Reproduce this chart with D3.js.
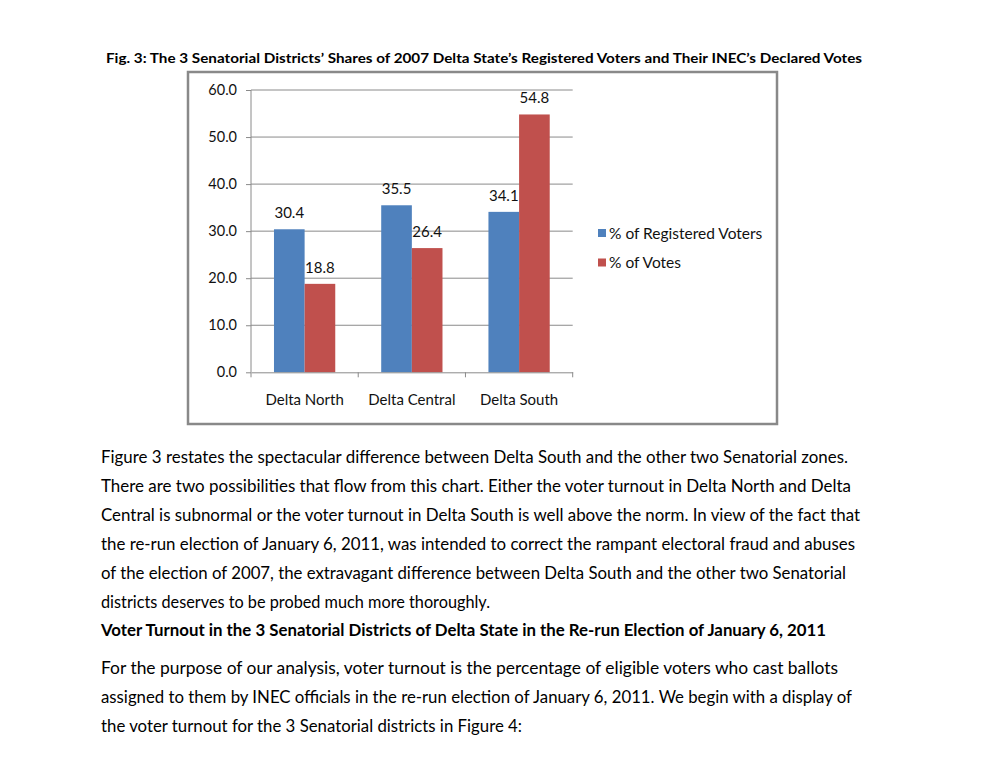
<!DOCTYPE html>
<html><head><meta charset="utf-8">
<script src="https://cdn.jsdelivr.net/npm/d3@7"></script>
<style>html,body{margin:0;padding:0;background:#fff;} svg{display:block;}</style>
</head><body>
<script>
const categories = ["Delta North", "Delta Central", "Delta South"];
const seriesNames = ["% of Registered Voters", "% of Votes"];
const registeredVoters = [30.4, 35.5, 34.1];
const votes = [18.8, 26.4, 54.8];
const yTicks = [0, 10, 20, 30, 40, 50, 60];
const colors = ["#4F81BD", "#C0504D"];
const title = "Fig. 3: The 3 Senatorial Districts\u2019 Shares of 2007 Delta State\u2019s Registered Voters and Their INEC\u2019s Declared Votes";
const para1 = [
 "Figure 3 restates the spectacular difference between Delta South and the other two Senatorial zones.",
 "There are two possibilities that flow from this chart. Either the voter turnout in Delta North and Delta",
 "Central is subnormal or the voter turnout in Delta South is well above the norm.  In view of the fact that",
 "the re-run election of January 6, 2011, was intended to correct the rampant electoral fraud and abuses",
 "of the election of 2007, the extravagant difference between Delta South and the other two Senatorial",
 "districts deserves to be probed much more thoroughly."
];
const para1W = [747, 750, 759, 754, 745, 389];
const heading = "Voter Turnout in the 3 Senatorial Districts of Delta State in the Re-run Election of January 6, 2011";
const para2 = [
 "For the purpose of our analysis, voter turnout is the percentage of eligible voters who cast ballots",
 "assigned to them by INEC officials in the re-run election of January 6, 2011. We begin with a display of",
 "the voter turnout for the 3 Senatorial districts in Figure 4:"
];
const para2W = [737, 751, 421];

const font = "Lato, 'Open Sans', sans-serif";
const svg = d3.select("body").append("svg").attr("width", 985).attr("height", 762)
  .style("font-family", font);

// title
svg.append("text").attr("x", 106).attr("y", 63).attr("font-size", 14).attr("font-weight", "bold")
  .attr("textLength", 756).attr("lengthAdjust", "spacingAndGlyphs").attr("fill", "#000").text(title);

// chart frame
svg.append("rect").attr("x", 188).attr("y", 72).attr("width", 589).attr("height", 352)
  .attr("fill", "#fff").attr("stroke", "#898989").attr("stroke-width", 2.5);

const x0 = d3.scaleBand().domain(categories).range([251, 572.7]).paddingInner(0).paddingOuter(0);
const bw = x0.bandwidth() / 3.5;
const x1 = d3.scaleBand().domain(seriesNames).range([bw * 0.75, bw * 0.75 + 2 * bw]).padding(0);
const y = d3.scaleLinear().domain([0, 60]).range([372.3, 90]);

// gridlines
svg.append("g").selectAll("line").data(yTicks.filter(d => d > 0)).join("line")
  .attr("x1", 251).attr("x2", 572.7).attr("y1", d => y(d)).attr("y2", d => y(d))
  .attr("stroke", "#8a8a8a").attr("stroke-width", 1);

// y axis
const yAxis = svg.append("g").attr("transform", "translate(251,0)")
  .call(d3.axisLeft(y).tickValues(yTicks).tickFormat(d3.format(".1f")).tickSize(5).tickPadding(9));
yAxis.select(".domain").attr("stroke", "#8a8a8a").attr("d", `M0,${y(60)}V${y(0)}`);
yAxis.selectAll(".tick line").attr("stroke", "#8a8a8a");
yAxis.selectAll(".tick text").attr("font-size", 14.5).attr("font-family", font).attr("fill", "#111");

// bars
const data = categories.map((c, i) => ({c, vals: [registeredVoters[i], votes[i]]}));
const groups = svg.append("g").selectAll("g").data(data).join("g")
  .attr("transform", d => `translate(${x0(d.c)},0)`);
groups.selectAll("rect").data(d => d.vals.map((v, j) => ({v, s: seriesNames[j], j}))).join("rect")
  .attr("x", d => x1(d.s)).attr("width", x1.bandwidth())
  .attr("y", d => y(d.v)).attr("height", d => y(0) - y(d.v))
  .attr("fill", d => colors[d.j]);
groups.selectAll("text").data(d => d.vals.map((v, j) => ({v, s: seriesNames[j], j}))).join("text")
  .attr("x", d => x1(d.s) + x1.bandwidth() / 2).attr("y", d => y(d.v) - 11)
  .attr("text-anchor", "middle").attr("font-size", 15).attr("fill", "#111")
  .text(d => d3.format(".1f")(d.v));

// x axis
const xAxis = svg.append("g").attr("transform", `translate(0,${y(0)})`)
  .call(d3.axisBottom(x0).tickSize(0).tickPadding(22));
xAxis.select(".domain").attr("stroke", "#8a8a8a");
xAxis.selectAll(".tick text").attr("font-size", 15).attr("font-family", font).attr("fill", "#111");
const bounds = [...categories.map(c => x0(c)), x0.range()[1]];
svg.append("g").selectAll("line").data(bounds).join("line")
  .attr("x1", d => d).attr("x2", d => d).attr("y1", y(0)).attr("y2", y(0) + 5)
  .attr("stroke", "#8a8a8a");

// legend
const lg = svg.append("g").selectAll("g").data(seriesNames).join("g")
  .attr("transform", (d, i) => `translate(598,${233 + i * 29.5})`);
lg.append("rect").attr("x", 0).attr("y", -4).attr("width", 8).attr("height", 8)
  .attr("fill", (d, i) => colors[i]);
lg.append("text").attr("x", 11).attr("y", 5.5).attr("font-size", 15.5).attr("fill", "#111").text(d => d);

// paragraphs
svg.append("g").selectAll("text").data(para1).join("text")
  .attr("x", 101).attr("y", (d, i) => 463 + i * 28.9)
  .attr("font-size", 17.5).attr("fill", "#000")
  .attr("textLength", (d, i) => para1W[i]).attr("lengthAdjust", "spacingAndGlyphs").text(d => d);
svg.append("text").attr("x", 101).attr("y", 636).attr("font-size", 17).attr("font-weight", "bold")
  .attr("textLength", 725).attr("lengthAdjust", "spacingAndGlyphs").attr("fill", "#000").text(heading);
svg.append("g").selectAll("text").data(para2).join("text")
  .attr("x", 101).attr("y", (d, i) => 674 + i * 28.9)
  .attr("font-size", 17.5).attr("fill", "#000")
  .attr("textLength", (d, i) => para2W[i]).attr("lengthAdjust", "spacingAndGlyphs").text(d => d);
</script>
</body></html>
